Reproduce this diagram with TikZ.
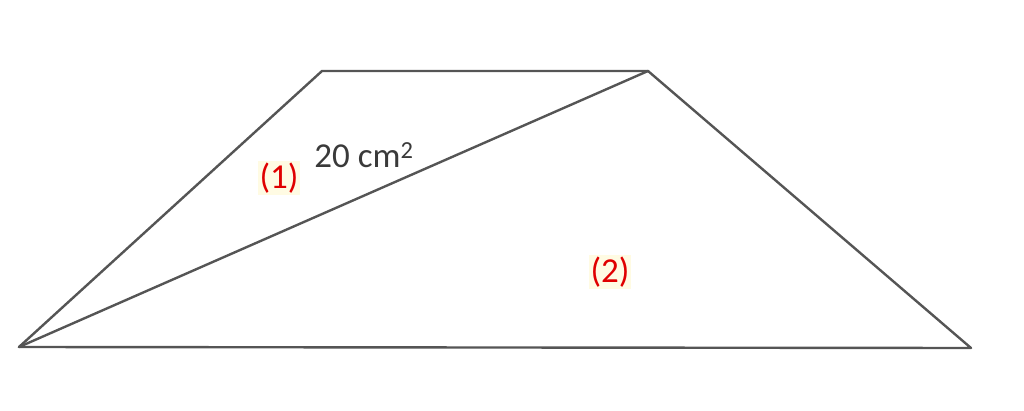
\documentclass[tikz,border=0pt]{standalone}
\usepackage{fontspec}
\setmainfont{Carlito}
\definecolor{edge}{HTML}{555555}
\definecolor{lbl}{HTML}{E00000}
\definecolor{hl}{HTML}{FFFBE3}
\definecolor{txt}{HTML}{3A3A3A}
\tikzset{
  edgeline/.style={draw=edge, line width=2.4pt, line join=round, line cap=round},
  partlabel/.style={text=lbl, fill=hl, font=\fontsize{35}{40}\selectfont, inner sep=2pt},
  arealabel/.style={text=txt, font=\fontsize{35}{40}\selectfont, inner sep=0pt}
}
\begin{document}
\begin{tikzpicture}[x=1pt,y=-1pt]
\useasboundingbox (0,0) rectangle (1024,411);
\coordinate (A) at (19,347);
\coordinate (B) at (971,348);
\coordinate (C) at (648,71);
\coordinate (D) at (322,71);
\draw[edgeline] (A) -- (B) -- (C) -- (D) -- cycle;
\draw[edgeline] (A) -- (C);
\node[partlabel] (p1) at (279,178) {(1)};
\node[arealabel] (area) at (364,155) {20 cm\textsuperscript{2}};
\node[partlabel] (p2) at (610,272) {(2)};
\end{tikzpicture}
\end{document}
